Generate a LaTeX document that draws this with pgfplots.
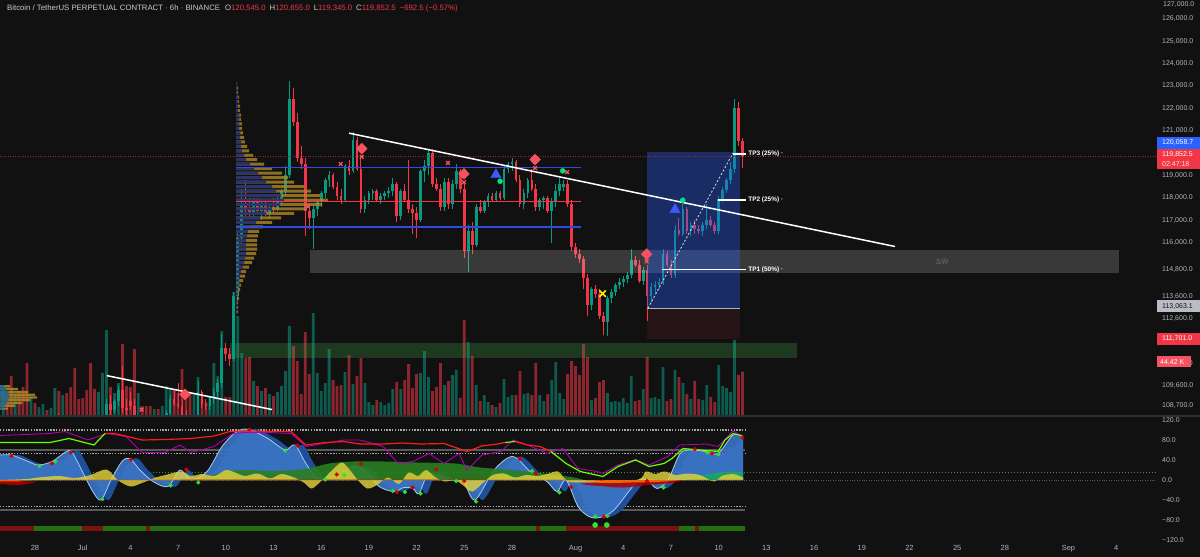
\documentclass[border=0pt]{standalone}
\usepackage{fontspec}
\setmainfont{Liberation Sans}
\usepackage{pgfplots}
\usepackage{pgfplotstable}
\pgfplotsset{compat=1.18}

\definecolor{bgc}{HTML}{111111}
\definecolor{upc}{HTML}{089981}
\definecolor{dnc}{HTML}{F23645}
\definecolor{txtc}{HTML}{B2B5BE}
\definecolor{ttlc}{HTML}{C8CBD2}
\definecolor{sepc}{HTML}{2E3038}
\definecolor{tvblue}{HTML}{2962FF}
\definecolor{lineblue}{HTML}{2F4BE0}
\definecolor{profy}{HTML}{B08A2A}
\definecolor{profn}{HTML}{1B2A78}
\definecolor{diac}{HTML}{F7525F}
\definecolor{trib}{HTML}{3D5AFE}
\definecolor{gdot}{HTML}{00E676}
\definecolor{wtdark}{HTML}{1D4F9A}
\definecolor{wtmid}{HTML}{3A75C4}
\definecolor{wtlight}{HTML}{A9C9EE}
\definecolor{yelc}{HTML}{E0D23C}
\definecolor{grnarea}{HTML}{2A7F22}
\definecolor{linered}{HTML}{FF1A1A}
\definecolor{linegrn}{HTML}{6CFF00}
\definecolor{linemag}{HTML}{B000B0}
\definecolor{stripr}{HTML}{7A1212}
\definecolor{stripg}{HTML}{22700F}
\definecolor{idot}{HTML}{D50000}
\definecolor{igdot}{HTML}{33DD33}
\definecolor{boxgreen}{HTML}{4CAF50}
\definecolor{gray1}{HTML}{A8A8A8}
\definecolor{gray2}{HTML}{5A5A5A}

% candles, 6h, x = days after 28 Jun
\pgfplotstableread{
d o h l c v
-2.00 107300 108100 106900 107700 26
-1.25 106800 107400 106700 107200 22
-0.25 106400 107100 106300 107000 19
0.25 107000 107300 106950 107250 9
0.50 107250 107500 107100 107400 12
1.00 107300 107600 107200 107500 8
1.25 107500 108300 107400 108200 28
1.75 107900 108200 107700 108100 21
4.00 105600 106500 105500 106300 24
4.25 106300 107200 106200 107000 43
4.50 107000 109000 106900 108800 86
5.00 108500 109000 108400 108900 23
5.25 108900 109600 108700 109400 33
6.50 108000 108300 107600 108100 23
7.50 107600 108000 107500 107900 7
8.00 107800 108100 107700 108000 10
8.25 108000 108500 107900 108400 30
8.50 108400 109200 108300 109000 28
10.00 107700 108200 107500 108100 23
10.25 108100 109800 108000 109300 39
11.00 108700 109100 108500 109000 20
11.25 109000 109500 108800 109300 53
11.50 109300 109900 109100 109700 40
11.75 109700 111900 109500 111300 85
12.50 110800 113800 110700 113600 124
12.75 113600 116500 113400 116200 100
13.00 116200 118400 116000 117700 63
13.75 117300 118000 117100 117800 35
14.25 117400 117800 117000 117700 25
14.75 117300 117700 117100 117600 22
15.25 117500 118100 117400 117900 24
15.50 117900 118400 117700 118300 30
15.75 118300 119400 118100 119000 45
16.00 119000 123200 118900 122400 90
17.50 117100 117700 115700 117500 103
17.75 117500 117900 117200 117800 43
18.00 117800 118300 117600 118200 25
18.25 118200 118900 118000 118800 33
18.50 118800 119200 118500 119000 67
19.50 117900 119500 117800 119400 44
20.00 119200 120950 119100 120600 32
20.75 117500 118100 117300 117900 33
21.00 117900 118300 117700 118200 14
21.25 118200 118400 117900 118300 11
21.75 117900 118200 117700 118100 14
22.00 118100 118300 117900 118200 11
22.25 118200 118500 118000 118300 13
22.50 118300 118900 118100 118600 27
23.00 117200 118400 117000 118300 27
24.25 117000 119300 116900 119200 43
24.50 119200 119700 118700 119400 65
24.75 119400 120200 119000 120000 39
25.75 117600 118900 117400 118700 31
26.25 117700 118800 117500 118600 41
26.50 118600 119500 118400 119200 46
27.25 115600 116800 114700 116500 74
27.75 115900 117700 115800 117600 31
28.25 117400 117900 117300 117800 21
28.50 117800 118200 117600 118100 14
29.00 117900 118300 117800 118200 9
29.50 118000 119400 117900 119300 37
29.75 119300 119600 119100 119500 19
30.00 119500 119800 119200 119600 21
30.75 117700 118400 117500 118200 22
31.00 118200 118900 118000 118800 23
31.75 117600 118000 117400 117900 21
32.00 117900 118100 117500 118000 15
32.50 117400 118000 116000 117800 36
32.75 117800 118600 117600 118300 54
33.00 118300 118900 118100 118600 23
33.25 118500 118800 118300 118600 17
35.00 113200 114000 113000 113900 16
36.00 112450 113600 111800 113500 23
36.25 113500 113900 113300 113800 14
36.50 113800 114200 113600 114100 15
36.75 114100 114400 113900 114250 14
37.00 114250 114500 114000 114350 18
37.25 114350 114700 114200 114550 13
37.50 114550 115700 114400 115200 40
38.25 114300 114900 114100 114750 27
38.75 113600 114200 113300 114000 18
39.00 114000 114300 113700 114100 19
39.25 114100 114400 113900 114250 17
39.50 114250 115700 114100 115500 49
40.25 114550 116800 114400 116550 46
40.75 116400 117700 116300 117500 33
41.25 116500 116900 116300 116800 17
42.00 116500 116900 116300 116800 16
42.25 116800 117700 116600 117000 31
43.00 116500 118100 116400 117950 51
43.25 117950 118500 117800 118350 30
43.50 118350 118900 118200 118800 28
43.75 118800 119600 118600 119300 24
44.00 119300 122400 119100 122000 76
}\upt

\pgfplotstableread{
d o h l c v
-1.75 107700 108000 107200 107500 20
-1.50 107500 107700 106600 106800 40
-1.00 107200 107600 106800 107000 25
-0.75 107000 107300 106500 106700 29
-0.50 106700 107000 106100 106400 53
0.00 107100 107300 106900 107000 13
0.75 107400 107450 107200 107300 6
1.50 108200 108400 107700 107900 25
2.00 108100 108300 107600 107800 23
2.25 107800 108000 107300 107400 29
2.50 107400 107700 106700 106900 48
2.75 106900 107200 106600 106700 17
3.00 106700 107000 106300 106500 18
3.25 106500 106700 105800 106000 26
3.50 106000 106300 105200 105500 53
3.75 105900 106100 105400 105600 27
4.75 108800 109200 108300 108500 29
5.50 109400 110500 108400 108600 72
5.75 108600 109000 108300 108500 30
6.00 108900 109300 108500 108700 29
6.25 108700 109000 107800 108000 67
6.75 108100 108200 107700 107800 10
7.00 107800 108000 107500 107700 10
7.25 107700 107900 107400 107600 10
7.75 107900 108100 107700 107800 7
8.75 109000 109400 108700 108800 26
9.00 108800 109700 108600 108700 23
9.25 108700 109000 108000 108200 47
9.50 108200 108500 107500 107800 19
9.75 107800 108200 107500 107700 23
10.50 109300 109400 108600 108800 17
10.75 108800 109000 108500 108700 14
12.00 111300 111500 110700 111000 19
12.25 111000 111300 110500 110800 19
13.25 117700 118800 117200 117500 58
13.50 117500 118000 117100 117300 59
14.00 117800 118000 117300 117400 30
14.50 117700 117900 117200 117300 28
15.00 117600 118000 117300 117500 20
16.25 122400 122900 121200 121400 70
16.50 121400 121800 119600 119800 55
16.75 119800 120300 119300 119500 22
17.00 119500 119800 116300 117400 84
17.25 117400 117700 116600 117100 42
18.75 119000 119100 118400 118500 36
19.00 118500 118700 117900 118100 30
19.25 118100 118400 117700 117900 31
19.75 119400 119700 119000 119200 61
20.25 120600 120700 119200 119300 40
20.50 119300 119800 117300 117500 58
21.50 118300 118400 117800 117900 16
22.75 118600 118700 116900 117200 34
23.25 118300 118600 117800 117900 36
23.50 117900 119700 117300 117500 52
23.75 117500 117700 116400 117300 28
24.00 117300 117600 116200 117000 42
25.00 120000 120200 118500 118600 25
25.25 118600 118900 118300 118400 29
25.50 118400 118600 117400 117600 53
26.00 118700 118900 117500 117700 35
26.75 119200 119300 118200 118400 18
27.00 118400 118600 115300 115600 96
27.50 116500 116900 115500 115900 60
28.00 117600 117900 117300 117400 15
28.75 118100 118200 117800 117900 11
29.25 118200 118300 117900 118000 13
30.25 119600 119700 118700 118800 21
30.50 118800 119000 117600 117700 45
31.25 118800 119300 118300 118400 21
31.50 118400 118600 117400 117600 53
32.25 118000 118100 117300 117400 22
33.50 118600 118800 117600 117700 42
33.75 117700 117900 115600 115800 55
34.00 115800 116000 115300 115500 50
34.25 115500 115700 115100 115250 41
34.50 115250 115400 113900 114400 72
34.75 114400 114600 112700 113200 59
35.25 113900 114100 113500 113700 18
35.50 113700 113900 112600 112700 34
35.75 112700 112900 111850 112450 36
37.75 115200 115400 114900 115000 15
38.00 115000 115200 114200 114300 16
38.50 114750 115000 112500 113600 59
39.75 115500 115600 114900 115000 15
40.00 115000 115200 114400 114550 17
40.50 116550 117100 116300 116400 39
41.00 117500 117600 116400 116500 22
41.50 116800 117000 116400 116600 35
41.75 116600 116800 116400 116500 17
42.50 117000 117200 116700 116800 19
42.75 116800 116900 116400 116500 14
44.25 122000 122300 120300 120545 41
44.50 120545 120655 119345 119852.5 44.42
}\dnt

% session volume profile (price, total, down part)
\pgfplotstableread{
p L N
123100 1 1
122900 2 1
122700 2 1
122500 3 2
122300 3 2
122100 4 2
121900 4 2
121700 5 3
121500 5 3
121300 6 3
121100 6 3
120900 7 4
120700 8 4
120500 9 5
120300 11 5
120100 13 6
119900 17 8
119700 21 10
119500 28 14
119300 36 18
119100 46 22
118900 52 26
118700 58 30
118500 68 36
118300 75 40
118100 84 45
117900 92 48
117700 86 44
117500 70 36
117300 58 30
117100 45 24
116900 36 20
116700 27 15
116500 23 12
116300 22 11
116100 21 10
115900 21 10
115700 21 10
115500 20 10
115300 18 9
115100 16 8
114900 13 7
114700 10 5
114500 9 4
114300 7 3
114100 5 3
113900 4 2
113700 3 2
113500 3 1
113300 2 1
113100 2 1
112900 2 1
}\proft

\pgfplotstableread{
p L N
109576 10 4
109450 18 6
109320 28 8
109195 35 9
109070 37 9
108945 30 8
108820 22 7
108700 15 5
108575 8 3
}\profmini

\pgfplotsset{
  base/.style={scale only axis, width=1156bp, xmin=-2.2013, xmax=70.5031,
    anchor=north west, axis line style={draw=none}, major tick length=0pt,
    xtick=\empty, ytick=\empty, clip=true},
  pricey/.style={ymin=108245, ymax=126841, height=416bp},
  candle/.style n args={2}{color=#1, draw=none, mark=none,
    error bars/y dir=plus, error bars/y explicit, error bars/error mark=none,
    error bars/error bar style={draw=#1, line width=#2, solid}},
}

\begin{document}
\begin{tikzpicture}[x=1bp,y=1bp]
\fill[bgc] (0,0) rectangle (1200,-557);

% ---------- volume ----------
\begin{axis}[base, at={(0bp,0bp)}, height=416bp, ymin=0, ymax=416]
\addplot[ybar, bar width=2.8bp, bar shift=0pt, fill=upc, draw=none, fill opacity=0.55] table[x=d,y=v]{\upt};
\addplot[ybar, bar width=2.8bp, bar shift=0pt, fill=dnc, draw=none, fill opacity=0.55] table[x=d,y=v]{\dnt};
\end{axis}

% ---------- price: zones and candles ----------
\begin{axis}[base, pricey, at={(0bp,0bp)}]
\addplot[draw=none, fill=boxgreen, fill opacity=0.25] coordinates {(12.26,111520) (47.92,111520) (47.92,110840) (12.26,110840)};
\addplot[draw=none, fill=dnc, fill opacity=0.10] coordinates {(38.51,113063.1) (44.31,113063.1) (44.31,111701) (38.51,111701)};
\addplot[candle={upc}{0.9bp}] table[x=d, y=l, y error plus expr=\thisrow{h}-\thisrow{l}] {\upt};
\addplot[candle={upc}{2.7bp}] table[x=d, y=o, y error plus expr=\thisrow{c}-\thisrow{o}] {\upt};
\addplot[candle={dnc}{0.9bp}] table[x=d, y=l, y error plus expr=\thisrow{h}-\thisrow{l}] {\dnt};
\addplot[candle={dnc}{2.7bp}] table[x=d, y=c, y error plus expr=\thisrow{o}-\thisrow{c}] {\dnt};
\addplot[draw=none, fill=white, fill opacity=0.17] coordinates {(17.3,115644) (68.2,115644) (68.2,114632) (17.3,114632)};
\addplot[draw=none, fill=tvblue, fill opacity=0.35] coordinates {(38.51,120058.7) (44.31,120058.7) (44.31,113063.1) (38.51,113063.1)};
\end{axis}

% ---------- volume profiles ----------
\begin{axis}[base, pricey, at={(236bp,0bp)}, width=300bp, xmin=0, xmax=300]
\addplot[xbar, bar width=3bp, bar shift=0pt, fill=profy, draw=none, fill opacity=0.78] table[x=L, y=p]{\proft};
\addplot[xbar, bar width=3bp, bar shift=0pt, fill=profn, draw=none, fill opacity=0.85] table[x=N, y=p]{\proft};
\end{axis}
\begin{axis}[base, pricey, at={(0bp,0bp)}, width=300bp, xmin=0, xmax=300]
\addplot[xbar, bar width=2.2bp, bar shift=0pt, fill=profy, draw=none, fill opacity=0.85] table[x=L, y=p]{\profmini};
\addplot[xbar, bar width=2.2bp, bar shift=0pt, fill=profn!70!cyan, draw=none, fill opacity=0.85] table[x=N, y=p]{\profmini};
\end{axis}

% ---------- price: drawings, signals, scale ----------
\begin{axis}[base, pricey, at={(0bp,0bp)},
  ytick={108700,109600,110600,112600,113600,114800,116000,117000,118000,119000,121000,122000,123000,124000,125000,126000},
  yticklabels={{108,700.0},{109,600.0},{110,600.0},{112,600.0},{113,600.0},{114,800.0},{116,000.0},{117,000.0},{118,000.0},{119,000.0},{121,000.0},{122,000.0},{123,000.0},{124,000.0},{125,000.0},{126,000.0}},
  yticklabel pos=right,
  yticklabel style={anchor=west, xshift=6bp, inner sep=0pt, font=\fontsize{7}{8}\selectfont, text=txtc}]
\addplot[draw=txtc, line width=1bp] coordinates {(38.51,113063.1) (44.31,113063.1)};
\addplot[draw=white!75!gray, dash pattern=on 2bp off 2bp, line width=0.8bp] coordinates {(38.55,113063) (43.9,120000)};
% levels
\addplot[draw=lineblue, line width=1.7bp] coordinates {(12.65,119360) (34.34,119360)};
\addplot[draw=dnc, line width=1.8bp] coordinates {(12.65,117832) (34.34,117832)};
\addplot[draw=lineblue, line width=1.7bp] coordinates {(12.65,116698) (34.34,116698)};
\addplot[draw=dnc!65!black, dash pattern=on 1bp off 1.5bp, line width=0.8bp] coordinates {(-2.2,119852.5) (70.5,119852.5)};
% trendlines
\addplot[draw=white, line width=1.5bp] coordinates {(19.75,120888) (54.09,115822)};
\addplot[draw=white, line width=1.5bp] coordinates {(4.51,110051) (14.9,108534)};
% take-profit lines
\addplot[draw=white, line width=1.6bp] coordinates {(39.41,114800) (44.70,114800)};
\addplot[draw=white, line width=1.6bp] coordinates {(42.94,117890) (44.70,117890)};
\addplot[draw=white, line width=1.6bp] coordinates {(43.90,119968) (44.70,119968)};
\node[anchor=west, inner sep=0pt, text=white, font=\bfseries\fontsize{6.5}{7}\selectfont] at (axis cs:44.85,114800) {TP1 (50\%) ·};
\node[anchor=west, inner sep=0pt, text=white, font=\bfseries\fontsize{6.5}{7}\selectfont] at (axis cs:44.85,117890) {TP2 (25\%) ·};
\node[anchor=west, inner sep=0pt, text=white, font=\bfseries\fontsize{6.5}{7}\selectfont] at (axis cs:44.85,119968) {TP3 (25\%) ·};
\node[inner sep=0pt, text=txtc!60!black, font=\itshape\fontsize{7.5}{8}\selectfont] at (axis cs:57.04,115115) {S/R};
% signals
\addplot[only marks, mark=diamond*, mark size=5.5bp, mark options={xscale=1.3}, color=diac] coordinates {(20.55,120198) (26.98,119067) (31.45,119706) (38.47,115481) (9.43,109211)};
\addplot[only marks, mark=x, mark size=2.6bp, mark options={line width=1.3bp}, color=diac] coordinates {(20.55,119830) (19.23,119509) (25.97,119555) (26.98,118690) (31.45,119327) (33.46,119145) (17.17,117607) (38.47,115159) (6.71,108534)};
\addplot[only marks, mark=triangle*, mark size=6bp, color=trib] coordinates {(28.99,119030) (40.25,117471)};
\addplot[only marks, mark=*, mark size=2.5bp, color=gdot] coordinates {(29.25,118736) (33.19,119204) (40.74,117890)};
\addplot[only marks, mark=x, mark size=4.5bp, mark options={line width=1.6bp}, color=yellow] coordinates {(35.70,113716)};
\end{axis}

% ---------- oscillator ----------
\begin{axis}[base, at={(0bp,-416bp)}, height=127bp, ymin=-126, ymax=128,
  ytick={-120,-80,-40,0,40,80,120},
  yticklabels={−120.0,−80.0,−40.0,0.0,40.0,80.0,120.0},
  yticklabel pos=right,
  yticklabel style={anchor=west, xshift=6bp, inner sep=0pt, font=\fontsize{7}{8}\selectfont, text=txtc},
  xtick={0,3,6,9,12,15,18,21,24,27,30,34,37,40,43,46,49,52,55,58,61,65,68},
  xticklabels={28,Jul,4,7,10,13,16,19,22,25,28,Aug,4,7,10,13,16,19,22,25,28,Sep,4},
  xticklabel style={anchor=north, yshift=-2bp, inner sep=0pt, font=\fontsize{7.5}{8}\selectfont, text=txtc}]
% guide lines
\addplot[draw=gray1, dash pattern=on 1.4bp off 1.4bp, line width=1.3bp] coordinates {(-2.2,100) (44.65,100)};
\addplot[draw=gray2, line width=1.5bp] coordinates {(-2.2,60) (44.65,60)};
\addplot[draw=gray1, dash pattern=on 1.4bp off 1.4bp, line width=1.3bp] coordinates {(-2.2,53) (44.65,53)};
\addplot[draw=gray1, dash pattern=on 1.4bp off 1.4bp, line width=1.3bp] coordinates {(-2.2,-53) (44.65,-53)};
\addplot[draw=gray2, line width=1.5bp] coordinates {(-2.2,-60) (44.65,-60)};
\addplot[draw=stripg!80!white, dash pattern=on 1bp off 2bp, line width=0.9bp] coordinates {(-2.2,15) (70.5,15)};
\addplot[draw=gray2, dash pattern=on 0.8bp off 1.6bp, line width=0.6bp] coordinates {(-2.2,0) (70.5,0)};
% wave areas
\addplot[draw=none, fill=wtdark, smooth] coordinates {(-2.2,48) (-1.0,50) (0.0,36) (0.69,30) (1.57,37) (2.64,59) (3.11,40) (4.08,-20) (4.65,-40) (5.28,0) (5.97,37) (6.47,43) (7.10,20) (7.92,-3) (8.86,-13) (9.62,20) (10.31,0) (11.32,17) (12.26,67) (13.2,97) (13.96,101) (15.15,83) (16.22,60) (16.85,70) (17.54,33) (18.3,3) (19.49,10) (20.44,27) (21.19,20) (22.14,-13) (23.08,-23) (23.7,-15) (24.27,-17) (24.65,-27) (25.28,13) (26.47,0) (27.42,-3) (28.17,-40) (29.37,20) (30.56,47) (31.76,13) (32.7,-3) (33.33,-23) (33.9,0) (34.65,-53) (35.34,-73) (36.0,-75) (36.92,-60) (38.36,-3) (38.99,0) (39.62,-17) (40.31,0) (41.07,53) (41.76,60) (42.7,57) (43.46,53) (44.53,85)} \closedcycle;
\addplot[draw=none, fill=wtmid, fill opacity=0.9, smooth] coordinates {(-2.2,50) (-1.48,50) (-0.5,38) (0.19,30) (1.07,37) (2.14,59) (2.61,40) (3.58,-20) (4.15,-40) (4.78,0) (5.47,37) (5.97,43) (6.60,20) (7.42,-3) (8.36,-13) (9.12,20) (9.81,0) (10.82,17) (11.76,67) (12.70,97) (13.46,101) (14.65,83) (15.72,60) (16.35,70) (17.04,33) (17.80,3) (18.99,10) (19.94,27) (20.69,20) (21.64,-13) (22.58,-23) (23.2,-15) (23.77,-17) (24.15,-27) (24.78,13) (25.97,0) (26.92,-3) (27.67,-40) (28.87,20) (30.06,47) (31.26,13) (32.20,-3) (32.83,-23) (33.40,0) (34.15,-53) (34.84,-73) (35.5,-75) (36.42,-60) (37.86,-3) (38.49,0) (39.12,-17) (39.81,0) (40.57,53) (41.26,60) (42.20,57) (42.96,53) (43.90,90) (44.53,87)} \closedcycle;
\addplot[draw=wtlight, line width=0.8bp, smooth] coordinates {(-2.2,50) (-1.48,50) (-0.5,38) (0.19,30) (1.07,37) (2.14,59) (2.61,40) (3.58,-20) (4.15,-40) (4.78,0) (5.47,37) (5.97,43) (6.60,20) (7.42,-3) (8.36,-13) (9.12,20) (9.81,0) (10.82,17) (11.76,67) (12.70,97) (13.46,101) (14.65,83) (15.72,60) (16.35,70) (17.04,33) (17.80,3) (18.99,10) (19.94,27) (20.69,20) (21.64,-13) (22.58,-23) (23.2,-15) (23.77,-17) (24.15,-27) (24.78,13) (25.97,0) (26.92,-3) (27.67,-40) (28.87,20) (30.06,47) (31.26,13) (32.20,-3) (32.83,-23) (33.40,0) (34.15,-53) (34.84,-73) (35.5,-75) (36.42,-60) (37.86,-3) (38.49,0) (39.12,-17) (39.81,0) (40.57,53) (41.26,60) (42.20,57) (42.96,53) (43.90,90) (44.53,87)};
% money-flow areas
\addplot[draw=none, fill=grnarea, fill opacity=0.9, smooth] coordinates {(10,0) (11.8,15) (13,20) (15,18) (17,22) (18.5,33) (20,37) (22,37) (24,35) (26.4,33) (28,25) (30,20) (32,13) (33.9,5) (34.5,0)} \closedcycle;
\addplot[draw=none, fill=grnarea!70!cyan, fill opacity=0.9, smooth] coordinates {(40.5,0) (42,10) (43.5,17) (44.53,15)} \closedcycle;
\addplot[draw=none, fill=yelc, fill opacity=0.82, smooth] coordinates {(-2.2,0) (-0.5,2) (0.2,5) (1.5,8) (2.5,4) (3.5,10) (4.5,21) (5.2,0) (6.0,-13) (6.8,-5) (7.6,5) (8.2,10) (9.2,17) (9.8,8) (10.5,12) (11.3,8) (12.0,20) (12.5,16) (13.2,8) (14.0,13) (14.8,3) (15.5,12) (16.3,5) (16.9,-5) (17.4,-17) (18.0,-2) (18.7,20) (19.3,35) (19.8,20) (20.3,0) (20.9,-17) (21.5,-10) (22.2,5) (22.9,-8) (23.5,15) (24.1,8) (24.6,20) (25.2,5) (25.8,-3) (26.4,0) (26.9,-10) (27.5,-23) (28.2,-5) (28.8,10) (29.5,13) (30.2,5) (30.9,10) (31.6,8) (32.2,12) (32.9,17) (33.4,0) (34.0,-5) (37.8,0) (38.4,17) (39.0,12) (39.6,17) (40.3,10) (41.0,13) (41.8,10) (42.7,-3) (43.2,8) (43.9,12) (44.53,5)} \closedcycle;
\addplot[draw=none, fill=red!70!black, fill opacity=0.85, smooth] coordinates {(-2.2,-8) (-1,-10) (0,-5) (1,0) (33.5,0) (34.3,-8) (35.5,-12) (37,-15) (38.5,-10) (39.5,-8) (40.5,-3) (41,0) (44.53,0)} \closedcycle;
\addplot[draw=none, fill=orange!90!red, fill opacity=0.85, smooth] coordinates {(-2.2,-3) (0,-2) (1,0) (33.6,0) (34.5,-4) (36,-6) (37.5,-5) (39,-4) (40,-2) (40.7,0)} \closedcycle;
% status strip
\addplot[draw=none, fill=stripg] coordinates {(-0.06,-92) (44.65,-92) (44.65,-102) (-0.06,-102)};
\addplot[draw=none, fill=stripr] coordinates {(-2.2,-92) (-0.06,-92) (-0.06,-102) (-2.2,-102)};
\addplot[draw=none, fill=stripr] coordinates {(2.96,-92) (4.28,-92) (4.28,-102) (2.96,-102)};
\addplot[draw=none, fill=stripr] coordinates {(6.98,-92) (7.23,-92) (7.23,-102) (6.98,-102)};
\addplot[draw=none, fill=stripr] coordinates {(31.5,-92) (31.76,-92) (31.76,-102) (31.5,-102)};
\addplot[draw=none, fill=stripr] coordinates {(33.4,-92) (40.5,-92) (40.5,-102) (33.4,-102)};
\addplot[draw=none, fill=stripr] coordinates {(41.5,-92) (41.76,-92) (41.76,-102) (41.5,-102)};
% lines
\addplot[draw=linemag, line width=0.9bp] coordinates {(-2.2,89) (0.94,93) (1.89,97) (3.33,80) (4.53,93) (5.73,87) (6.73,55) (8.18,55) (9.12,70) (9.81,55) (11.26,67) (12.45,93) (13.21,95) (14.65,95) (16.1,93) (17.04,67) (19.43,80) (20.44,80) (21.89,67) (22.83,33) (23.77,37) (24.78,53) (25.72,33) (26.67,53) (27.17,20) (28.11,50) (29.31,57) (30.06,80) (31.0,70) (32.2,53) (33.2,63) (34.15,23) (35.35,17) (35.72,13) (36.67,30) (37.77,41) (38.62,30) (39.81,47) (40.53,70) (42.2,72) (42.96,67) (43.9,98) (44.53,87)};
\addplot[draw=linered, line width=1.2bp] coordinates {(4.4,93) (5.03,93) (6.73,80) (8.18,81) (9.81,83) (11.26,88) (12.26,97) (13.46,98) (16.1,97) (17.04,70) (18.24,75) (19.43,77) (20.44,72) (21.89,72) (23.08,74) (24.28,72) (25.72,73) (27.17,57) (28.11,68) (29.09,72) (29.56,75)};
\addplot[draw=linered, line width=1.2bp] coordinates {(30.19,77) (31.0,70) (31.76,67) (32.45,57)};
\addplot[draw=linegrn, line width=1.2bp] coordinates {(-2.2,75) (0.94,75) (2.14,83) (3.71,70) (4.4,93)};
\addplot[draw=linegrn, line width=1.2bp] coordinates {(29.56,75) (30.19,77)};
\addplot[draw=linegrn, line width=1.2bp] coordinates {(32.45,57) (33.4,33) (34.3,17) (35.72,7) (36.67,27) (37.77,40) (38.62,27) (39.56,33) (40.06,43) (40.75,63) (42.2,59) (42.96,57) (43.4,80) (43.9,93) (44.53,88)};
% dots
\addplot[only marks, mark=*, mark size=1.9bp, color=idot] coordinates {(-1.48,48) (1.05,33) (2.25,55) (6.03,41) (9.52,21) (13.49,101) (16.5,69) (18.98,11) (20.5,32) (22.76,-24) (23.75,-15) (25.24,21) (27.0,-2) (30.48,42) (31.5,13) (33.71,-14) (35.77,-73) (38.49,-2) (41.5,62) (42.58,53) (44.5,85)};
\addplot[only marks, mark=*, mark size=1.9bp, color=igdot] coordinates {(0.28,28) (1.29,37) (4.25,-38) (8.53,-11) (10.27,-5) (15.73,59) (18.26,1) (19.46,10) (22.5,-22) (23.26,-24) (24.25,-27) (26.49,-2) (27.74,-43) (31.26,18) (32.99,-25) (35.23,-73) (36.01,-72) (39.52,-15) (42.29,55) (42.99,51)};
\addplot[only marks, mark=*, mark size=2.6bp, color=igdot] coordinates {(35.23,-90) (35.96,-90)};
\end{axis}

% pane separator
\draw[sepc, line width=1.8bp] (0,-416) -- (1200,-416);

% title
\node[anchor=west, inner sep=0pt, text=ttlc, font=\fontsize{7.8}{9}\selectfont] at (7,-8)
 {Bitcoin / TetherUS PERPETUAL CONTRACT · 6h · BINANCE\hspace{5bp}O\textcolor{dnc}{120,545.0}\hspace{4bp}H\textcolor{dnc}{120,655.0}\hspace{4bp}L\textcolor{dnc}{119,345.0}\hspace{4bp}C\textcolor{dnc}{119,852.5}\hspace{4bp}\textcolor{dnc}{−692.5 (−0.57\%)}};

% price-scale labels
\node[anchor=west, inner sep=0pt, text=txtc, font=\fontsize{7}{8}\selectfont] at (1163,-4.6) {127,000.0};
\fill[tvblue] (1157,-137) rectangle (1200,-149);
\node[anchor=west, inner sep=0pt, text=white, font=\fontsize{7}{8}\selectfont] at (1162,-143) {120,058.7};
\fill[dnc] (1157,-149) rectangle (1200,-169.5);
\node[anchor=west, inner sep=0pt, text=white, font=\fontsize{7}{8}\selectfont] at (1162,-154.5) {119,852.5};
\node[anchor=west, inner sep=0pt, text=white!85!dnc, font=\fontsize{7}{8}\selectfont] at (1162,-164) {02:47:18};
\fill[txtc!90!white] (1157,-300.5) rectangle (1200,-312);
\node[anchor=west, inner sep=0pt, text=bgc, font=\fontsize{7}{8}\selectfont] at (1162,-306.3) {113,063.1};
\fill[dnc] (1157,-333) rectangle (1200,-345);
\node[anchor=west, inner sep=0pt, text=white, font=\fontsize{7}{8}\selectfont] at (1162,-339) {111,701.0};
\fill[diac] (1157,-356.5) rectangle (1191,-367.5);
\node[anchor=west, inner sep=0pt, text=white, font=\fontsize{7}{8}\selectfont] at (1160,-362) {44.42 K};

\pgfresetboundingbox
\path[use as bounding box] (0,0) rectangle (1200,-557);
\end{tikzpicture}
\end{document}
